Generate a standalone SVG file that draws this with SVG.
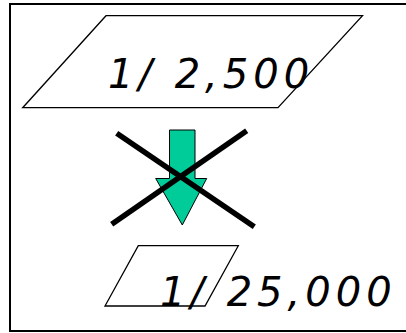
<svg xmlns="http://www.w3.org/2000/svg" width="406" height="333" viewBox="0 0 406 333">
<style>
.frame{fill:none;stroke:#000;stroke-width:2}
.para{fill:#fff;stroke:#000;stroke-width:1.3}
.lbl{font-family:"DejaVu Sans",sans-serif;font-style:italic;font-size:40px;letter-spacing:5px;fill:#000}
.arrow{fill:#00CC99;stroke:#000;stroke-width:1}
.cross{stroke:#000;stroke-width:5.5;stroke-linecap:butt}
</style>
<rect class="frame" x="10" y="4" width="410" height="327"/>
<g id="top-sheet">
<polygon class="para" points="106,15.7 362.5,15.7 278,107.7 22.7,107.7"/>
<text class="lbl" x="108" y="88">1/ 2,500</text>
</g>
<g id="bottom-sheet">
<polygon class="para" points="138.3,245.7 238.3,245.7 205,306 105,306"/>
<text class="lbl" x="160" y="306">1/ 25,000</text>
</g>
<g id="arrow">
<polygon class="arrow" points="169.5,130 195,130 195,178.5 206.7,178.5 182.3,225 155.7,178.5 169.5,178.5"/>
</g>
<g id="connectors">
<line class="cross" x1="116.7" y1="133.3" x2="254.3" y2="226.7"/>
<line class="cross" x1="246.7" y1="130.7" x2="111.7" y2="224.3"/>
</g>
</svg>
